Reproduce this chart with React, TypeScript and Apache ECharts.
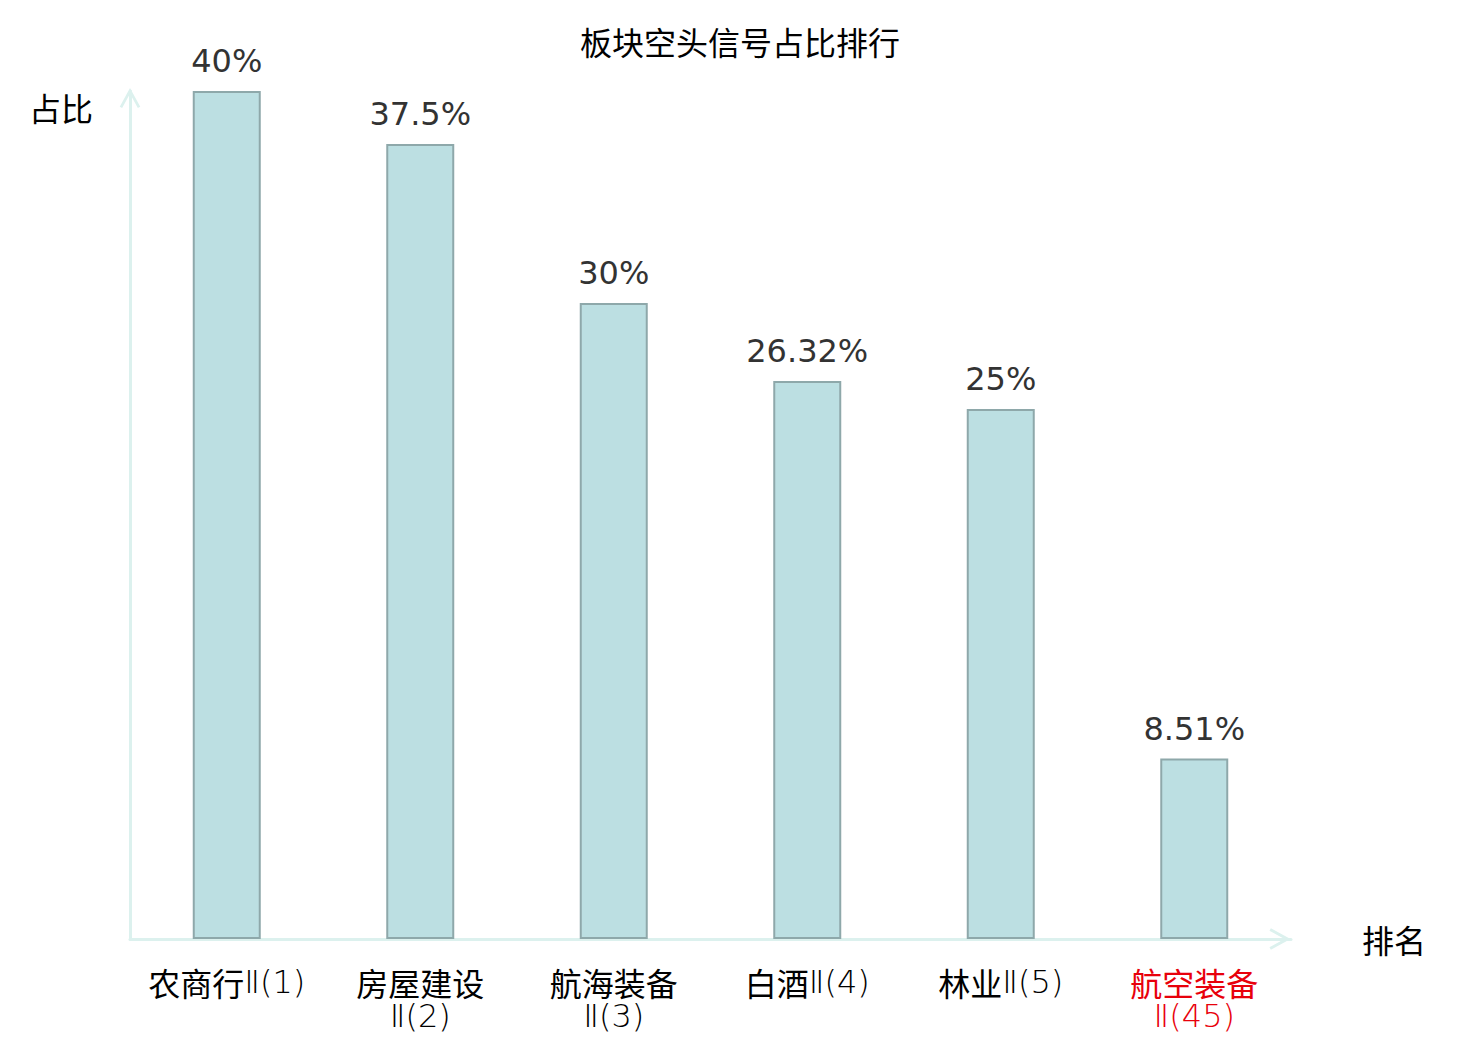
import React, { useEffect, useRef } from "react";
import * as echarts from "echarts";

const titleText = "板块空头信号占比排行";
const categories = ["农商行Ⅱ(1)", "房屋建设Ⅱ(2)", "航海装备Ⅱ(3)", "白酒Ⅱ(4)", "林业Ⅱ(5)", "航空装备Ⅱ(45)"];
const values = [40, 37.5, 30, 26.32, 25, 8.51];
const highlightIndex = 5;
const yName = "占比";
const xName = "排名";

const CJK = "'Noto Sans CJK SC', 'DejaVu Sans', sans-serif";
const LATIN_THIN = "'DejaVu Sans', 'Noto Sans CJK SC', sans-serif";
const AXIS_COLOR = "#dcf1ee";
const ARROW = "path://M0,0 L11,20 L8.4,21.4 L0,6.2 L-8.4,21.4 L-11,20 Z";

export default function App() {
  const ref = useRef<HTMLDivElement>(null);
  useEffect(() => {
    if (!ref.current) return;
    const chart = echarts.init(ref.current, undefined, { renderer: "svg" });
    const mk = (color: string, thin: boolean) => ({
      fontFamily: thin ? LATIN_THIN : CJK,
      fontWeight: thin ? 200 : "normal",
      fontSize: 32,
      lineHeight: 34,
      color,
    });
    chart.setOption({
      animation: false,
      backgroundColor: "#ffffff",
      title: {
        text: titleText,
        left: "center",
        top: 20,
        textStyle: { fontFamily: CJK, fontSize: 32, fontWeight: "normal", color: "#000", lineHeight: 32 },
      },
      grid: { left: 130, right: 189, top: 91, bottom: 101 },
      xAxis: {
        type: "category",
        data: categories,
        name: xName,
        nameLocation: "end",
        nameGap: 71,
        nameTextStyle: { fontFamily: CJK, fontSize: 32, color: "#000" },
        axisLine: {
          show: true,
          lineStyle: { color: AXIS_COLOR, width: 3 },
          symbol: ["none", ARROW],
          symbolSize: [22, 21],
          symbolOffset: [0, -11],
        },
        axisTick: { show: false },
        axisLabel: {
          interval: 0,
          margin: 26,
          fontFamily: CJK,
          fontSize: 32,
          lineHeight: 34,
          color: "#000",
          formatter: (v: string, idx: number) => {
            const i = v.indexOf("Ⅱ");
            const head = v.slice(0, i);
            const tail = v.slice(i);
            const r = idx === highlightIndex ? "r" : "k";
            const sep = head.length >= 4 ? "\n" : "";
            return "{" + r + "a|" + head + "}" + sep + "{" + r + "b|" + tail + "}";
          },
          rich: {
            ka: mk("#000", false),
            kb: mk("#000", true),
            ra: mk("#e8000b", false),
            rb: mk("#e8000b", true),
          },
        },
      },
      yAxis: {
        type: "value",
        min: 0,
        max: 40,
        name: yName,
        nameLocation: "end",
        nameGap: -16,
        nameTextStyle: {
          fontFamily: CJK,
          fontSize: 32,
          color: "#000",
          align: "right",
          verticalAlign: "middle",
          padding: [0, 37, 0, 0],
        },
        axisLine: {
          show: true,
          lineStyle: { color: AXIS_COLOR, width: 3 },
          symbol: ["none", ARROW],
          symbolSize: [21, 20],
          symbolOffset: [0, -7],
        },
        axisTick: { show: false },
        axisLabel: { show: false },
        splitLine: { show: false },
      },
      series: [
        {
          type: "bar",
          data: values,
          barWidth: 68,
          itemStyle: { color: "#bcdfe2", borderColor: "#8ea8aa", borderWidth: 2 },
          label: {
            show: true,
            position: "top",
            distance: 14,
            fontFamily: "'DejaVu Sans', sans-serif",
            fontSize: 32,
            color: "#333",
            formatter: (p: any) => p.value + "%",
          },
        },
      ],
    });
    return () => chart.dispose();
  }, []);
  return <div ref={ref} style={{ position: "fixed", left: 0, top: 0, width: 1480, height: 1040 }} />;
}
